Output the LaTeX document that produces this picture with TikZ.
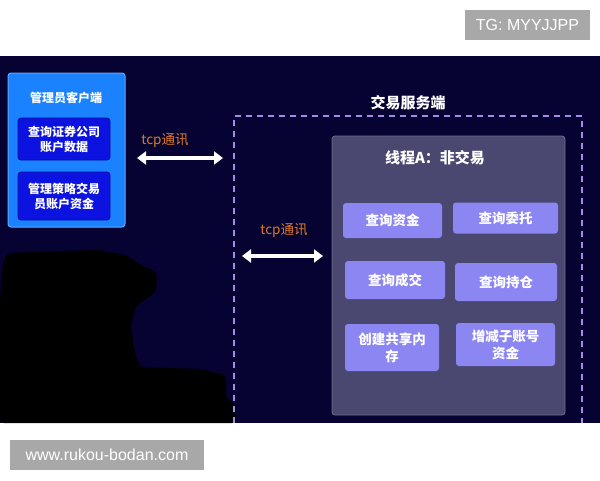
\documentclass[tikz,border=0pt]{standalone}
\usepackage{fontspec}
\setmainfont{Noto Sans CJK SC}
\newfontfamily\wmfont{Liberation Sans}
\usetikzlibrary{arrows.meta}
\definecolor{panelbg}{RGB}{6,3,50}
\definecolor{clientblue}{RGB}{26,130,255}
\definecolor{subblue}{RGB}{12,18,224}
\definecolor{threadbg}{RGB}{74,72,112}
\definecolor{btnc}{RGB}{140,134,242}
\definecolor{dashc}{RGB}{163,139,230}
\definecolor{tcporange}{RGB}{224,122,36}
\definecolor{wmgray}{RGB}{168,168,168}
\tikzset{
  subbox/.style={draw=subblue!70!black, line width=0.8pt, fill=subblue, rounded corners=3pt, text=white, font=\bfseries\fontsize{12}{15}\selectfont, align=center, inner sep=0pt},
  btnbox/.style={fill=btnc, rounded corners=3pt, text=white, font=\bfseries\fontsize{13.5}{17}\selectfont, align=center, inner sep=0pt},
  titletext/.style={text=white, font=\bfseries\fontsize{13}{15}\selectfont, inner sep=0pt},
  tcplabel/.style={text=tcporange, font=\fontsize{13.5}{15}\selectfont, inner sep=0pt},
  tcparrow/.style={white, line width=4pt, {Triangle[width=13pt,length=9pt]}-{Triangle[width=13pt,length=9pt]}},
  wmbox/.style={fill=wmgray, text=white, font=\wmfont\fontsize{16}{18}\selectfont, inner sep=0pt}
}
\begin{document}
\begin{tikzpicture}[x=1pt,y=-1pt]
\useasboundingbox (0,0) rectangle (600,480);
\fill[white] (0,0) rectangle (600,480);
% dark panel
\fill[panelbg] (0,56) rectangle (600,423);
% redacted blob
\fill[black, rounded corners=4pt] (3,262) -- (8,253) -- (60,251) -- (100,250) -- (128,256) -- (142,266) -- (157,272) -- (156,292) -- (136,306) -- (131,325) -- (134,350) -- (140,367) -- (200,369) -- (226,375) -- (226,398) -- (236,404) -- (236,423) -- (0,423) -- (0,300) -- cycle;
% watermarks
\node[wmbox, minimum width=125pt, minimum height=30pt] (wm1) at (527.5,25) {TG: MYYJJPP};
\node[wmbox, minimum width=194pt, minimum height=30pt] (wm2) at (107,455) {www.rukou-bodan.com};
% client box
\node[draw=clientblue!70!white, line width=1pt, fill=clientblue, rounded corners=3pt, minimum width=117pt, minimum height=154pt, inner sep=0pt] (client) at (66.5,150) {};
\node[titletext, font=\bfseries\fontsize{12}{14}\selectfont] (clienttitle) at (66,98) {管理员客户端};
\node[subbox, minimum width=92pt, minimum height=42pt] (sub1) at (64,139) {查询证券公司\\账户数据};
\node[subbox, minimum width=92pt, minimum height=48pt] (sub2) at (64,196) {管理策略交易\\员账户资金};
% server
\node[titletext, font=\bfseries\fontsize{15}{17}\selectfont] (servertitle) at (408,103) {交易服务端};
\draw[dashc, line width=1.5pt, dash pattern=on 6pt off 5pt] (234,423) -- (234,116) -- (582,116) -- (582,423);
\node[fill=threadbg, draw=threadbg!80!white, line width=0.8pt, rounded corners=3pt, minimum width=233pt, minimum height=279pt, inner sep=0pt] (thread) at (448.5,275.5) {};
\node[titletext, font=\bfseries\fontsize{15}{17}\selectfont] (threadtitle) at (435,158) {线程A：非交易};
\node[btnbox, minimum width=99pt, minimum height=35pt] (b1) at (392.5,220.5) {查询资金};
\node[btnbox, minimum width=105pt, minimum height=31pt] (b2) at (505.5,218) {查询委托};
\node[btnbox, minimum width=100pt, minimum height=38pt] (b3) at (395,280) {查询成交};
\node[btnbox, minimum width=102pt, minimum height=38pt] (b4) at (506,282) {查询持仓};
\node[btnbox, minimum width=94pt, minimum height=47pt] (b5) at (392,347.5) {创建共享内\\存};
\node[btnbox, minimum width=99pt, minimum height=43pt] (b6) at (505.5,344.5) {增减子账号\\资金};
% arrows
\coordinate (a1l) at (137,158);
\coordinate (a1r) at (223,158);
\draw[tcparrow] (a1l) -- (a1r);
\node[tcplabel] (t1) at (165,141) {tcp通讯};
\coordinate (a2l) at (242,256);
\coordinate (a2r) at (323,256);
\draw[tcparrow] (a2l) -- (a2r);
\node[tcplabel] (t2) at (284,231) {tcp通讯};
\end{tikzpicture}
\end{document}
